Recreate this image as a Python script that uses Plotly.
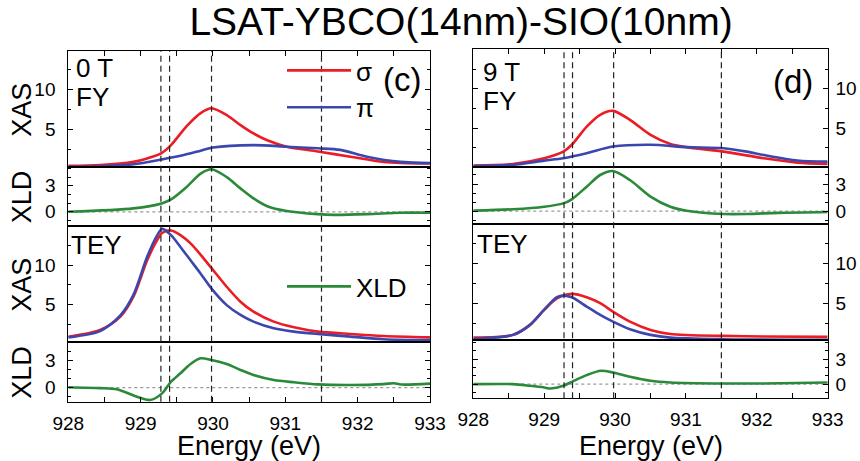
import plotly.graph_objects as go

# ---------------- data ----------------
# Left column: 0 T
fy0_sigma_E = [928, 928.44, 928.9, 929.09, 929.29, 929.42, 929.64, 929.83, 929.98, 930.19, 930.38, 930.56, 930.75, 931.02, 931.45, 931.9, 932.36, 933]
fy0_sigma = [0.4, 0.5, 0.9, 1.33, 2.0, 3.0, 5.4, 7.0, 7.6, 6.75, 5.5, 4.46, 3.6, 2.8, 2.2, 1.55, 0.9, 0.7]
fy0_pi_E = [928, 928.44, 928.9, 929.29, 929.55, 929.83, 930.0, 930.56, 931.02, 931.45, 931.76, 932.13, 932.59, 933]
fy0_pi = [0.3, 0.35, 0.6, 1.2, 1.66, 2.3, 2.7, 3.0, 2.8, 2.6, 2.4, 1.55, 0.9, 0.75]
fy0_xld_E = [928, 928.9, 929.29, 929.42, 929.64, 929.83, 929.98, 930.19, 930.38, 930.56, 930.75, 931.02, 931.45, 931.67, 932.13, 932.59, 933]
fy0_xld = [0.0, 0.4, 0.97, 1.43, 2.9, 4.4, 4.9, 4.0, 2.7, 1.55, 0.65, 0.1, -0.27, -0.35, -0.27, -0.1, -0.1]

tey0_E = [928, 928.44, 928.72, 928.9, 929.09, 929.23, 929.3, 929.42, 929.55, 929.69, 929.83, 929.98, 930.19, 930.38, 930.56, 930.84, 931.12, 931.45, 931.9, 932.36, 933]
tey0_sigma = [0.89, 1.74, 3.43, 5.97, 10.6, 13.2, 14.1, 14.4, 13.8, 12.75, 11.3, 9.6, 7.24, 5.34, 4.07, 2.8, 2.08, 1.53, 1.23, 0.98, 0.8]
tey0_pi = [0.8, 1.6, 3.6, 6.2, 11.05, 13.8, 14.6, 13.8, 12.3, 10.6, 8.9, 7.0, 4.9, 3.65, 2.8, 1.96, 1.53, 1.23, 0.9, 0.56, 0.45]
tey0_xld_E = [928, 928.44, 928.67, 928.95, 929.13, 929.3, 929.42, 929.55, 929.69, 929.83, 929.98, 930.19, 930.38, 930.56, 930.84, 931.12, 931.45, 931.9, 932.36, 932.5, 932.6, 933]
tey0_xld = [0.05, -0.05, -0.18, -1.0, -1.37, -0.6, 0.67, 1.6, 2.63, 3.26, 3.07, 2.63, 1.97, 1.41, 0.85, 0.6, 0.37, 0.3, 0.4, 0.5, 0.35, 0.45]

# Right column: 9 T
fy9_sigma_E = [928, 928.56, 929, 929.27, 929.39, 929.6, 929.79, 929.97, 930.21, 930.5, 930.78, 931.01, 931.53, 932.1, 932.57, 933]
fy9_sigma = [0.26, 0.47, 1.19, 2.03, 2.9, 5.2, 6.7, 7.2, 6.06, 4.16, 3.0, 2.6, 2.03, 1.19, 0.64, 0.47]
fy9_pi_E = [928, 928.56, 929, 929.27, 929.6, 929.97, 930.5, 931.01, 931.53, 931.86, 932.1, 932.57, 933]
fy9_pi = [0.2, 0.35, 0.89, 1.2, 1.83, 2.67, 2.9, 2.6, 2.46, 2.03, 1.6, 0.9, 0.76]
fy9_xld_E = [928, 928.56, 929, 929.27, 929.39, 929.6, 929.79, 929.97, 930.21, 930.5, 930.78, 931.01, 931.53, 931.86, 932.3, 933]
fy9_xld = [0.04, 0.2, 0.48, 0.85, 1.3, 2.7, 4.0, 4.44, 3.44, 1.6, 0.48, 0.04, -0.33, -0.33, -0.2, -0.1]

tey9_sigma_E = [928, 928.56, 928.8, 929, 929.18, 929.39, 929.6, 929.79, 929.97, 930.21, 930.5, 930.78, 931.53, 932.1, 933]
tey9_sigma = [0.7, 1.04, 2.29, 4.16, 5.6, 6.16, 5.75, 5.0, 3.95, 2.7, 1.66, 1.16, 0.91, 0.83, 0.79]
tey9_pi_E = [928, 928.56, 928.8, 929, 929.18, 929.27, 929.39, 929.6, 929.79, 929.97, 930.21, 930.5, 930.78, 931.53, 933]
tey9_pi = [0.54, 1.04, 2.29, 4.2, 5.75, 5.95, 5.75, 4.58, 3.54, 2.7, 1.75, 1.04, 0.7, 0.5, 0.41]
tey9_xld_E = [928, 928.56, 928.8, 929, 929.09, 929.27, 929.39, 929.6, 929.8, 929.97, 930.21, 930.5, 930.78, 931.53, 932.1, 933]
tey9_xld = [0.0, 0.0, -0.2, -0.4, -0.52, -0.2, 0.28, 1.08, 1.6, 1.4, 0.88, 0.4, 0.2, 0.08, 0.08, 0.2]

marker_energies = [929.28, 929.4, 929.98, 931.5]
x_ticks = [928, 929, 930, 931, 932, 933]
x_title = "Energy (eV)"
row_titles = ["XAS", "XLD", "XAS", "XLD"]

# ---------------- styling ----------------
RED = "#EC1C24"
BLUE = "#3B47AE"
GREEN = "#2B8A3A"
FONT = "Liberation Sans, Arial, sans-serif"
W, H = 860, 461

def py(px):
    return 1 - px / H

col_x = [[68.3 / W, 430 / W], [473.3 / W, 827.7 / W]]
col_rows = [[50.7, 166.7, 225.7, 341.7, 401.7], [49.3, 166.7, 224, 340, 398.3]]
y_ranges = [
    [[0.3, 14.8], [-1.6, 5.2], [0.25, 15.0], [-1.55, 5.1]],
    [[0.12, 15.0], [-1.44, 4.92], [0.4, 14.9], [-1.7, 5.3]],
]

fig = go.Figure()

def ax(r, c):
    return r * 2 + c + 1

def add(r, c, x, y, color, name=None, legend=None):
    k = ax(r, c)
    fig.add_trace(go.Scatter(
        x=x, y=y, mode="lines", line=dict(color=color, width=2.6, shape="spline", smoothing=0.8),
        xaxis="x" if k == 1 else f"x{k}", yaxis="y" if k == 1 else f"y{k}",
        name=name or "", showlegend=name is not None, legend=legend or "legend",
        hoverinfo="skip"))

# left column
add(0, 0, fy0_sigma_E, fy0_sigma, RED, "σ", "legend")
add(0, 0, fy0_pi_E, fy0_pi, BLUE, "π", "legend")
add(1, 0, fy0_xld_E, fy0_xld, GREEN)
add(2, 0, tey0_E, tey0_sigma, RED)
add(2, 0, tey0_E, tey0_pi, BLUE)
add(3, 0, tey0_xld_E, tey0_xld, GREEN, "XLD", "legend2")
# right column
add(0, 1, fy9_sigma_E, fy9_sigma, RED)
add(0, 1, fy9_pi_E, fy9_pi, BLUE)
add(1, 1, fy9_xld_E, fy9_xld, GREEN)
add(2, 1, tey9_sigma_E, tey9_sigma, RED)
add(2, 1, tey9_pi_E, tey9_pi, BLUE)
add(3, 1, tey9_xld_E, tey9_xld, GREEN)

layout = dict(
    template="none",
    width=W, height=H, margin=dict(l=0, r=0, t=0, b=0, autoexpand=False),
    paper_bgcolor="white", plot_bgcolor="white",
    font=dict(family=FONT, color="black", size=19),
    title=dict(text="LSAT-YBCO(14nm)-SIO(10nm)", x=461 / W, y=py(21), xanchor="center", yanchor="middle",
               font=dict(size=39, family=FONT, color="black")),
    legend=dict(x=282 / W, y=py(47), xanchor="left", yanchor="top", bgcolor="rgba(0,0,0,0)",
                font=dict(size=26, family=FONT), itemwidth=64, tracegroupgap=0),
    legend2=dict(x=282 / W, y=py(263), xanchor="left", yanchor="top", bgcolor="rgba(0,0,0,0)",
                 font=dict(size=26, family=FONT), itemwidth=64),
    showlegend=True,
)

for c in range(2):
    rows = col_rows[c]
    for r in range(4):
        k = ax(r, c)
        xname = "xaxis" if k == 1 else f"xaxis{k}"
        yname = "yaxis" if k == 1 else f"yaxis{k}"
        yref = "y" if k == 1 else f"y{k}"
        xa = dict(domain=col_x[c], anchor=yref, range=[928, 933], showgrid=False, zeroline=False,
                  showline=True, linecolor="black", linewidth=1, mirror=True, automargin=False,
                  tickvals=x_ticks, ticktext=[str(v) for v in x_ticks], fixedrange=True)
        if r == 0:
            xa.update(side="top", ticks="inside", ticklen=5, tickcolor="black", showticklabels=False,
                      minor=dict(dtick=0.5, tick0=928, ticks="inside", ticklen=5, tickcolor="black"))
        elif r == 3:
            xa.update(side="bottom", ticks="inside", ticklen=5, tickcolor="black", showticklabels=True,
                      tickfont=dict(size=19), ticklabelstandoff=4,
                      minor=dict(dtick=0.5, tick0=928, ticks="inside", ticklen=5, tickcolor="black"))
        else:
            xa.update(ticks="", showticklabels=False)
        is_xas = r in (0, 2)
        ya = dict(domain=[py(rows[r + 1]), py(rows[r])], anchor="x" if k == 1 else f"x{k}",
                  range=y_ranges[c][r], showgrid=False, zeroline=False, automargin=False,
                  showline=True, linecolor="black", linewidth=1, mirror="ticks",
                  ticks="inside", ticklen=5, tickcolor="black",
                  tickvals=[5, 10] if is_xas else [0, 3],
                  minor=dict(tickvals=[2.5, 7.5, 12.5] if is_xas else [-1, 1, 2, 4, 5],
                             ticks="inside", ticklen=3, tickcolor="black"),
                  tickfont=dict(size=19), fixedrange=True)
        if c == 0:
            ya.update(side="left", ticklabelstandoff=8)
        else:
            ya.update(side="right", ticklabelstandoff=3)
        layout[xname] = xa
        layout[yname] = ya

fig.update_layout(**layout)

shapes = []
for c in range(2):
    rows = col_rows[c]
    xr = "x" if c == 0 else "x2"
    for e in marker_energies:
        shapes.append(dict(type="line", xref=xr, yref="paper", x0=e, x1=e, y0=py(rows[4]), y1=py(rows[0]),
                           line=dict(color="#222222", width=1.2, dash="6px,4px"), layer="above"))
    for r in (1, 3):
        k = ax(r, c)
        shapes.append(dict(type="line", xref=f"x{k} domain", yref=f"y{k}", x0=0, x1=1, y0=0, y1=0,
                           line=dict(color="#9a9a9a", width=1.3, dash="dot"), layer="below"))
fig.update_layout(shapes=shapes)

ann = []
def text(t, x, y, size=26, xanchor="left", angle=0):
    ann.append(dict(text=t, xref="paper", yref="paper", x=x / W, y=py(y), xanchor=xanchor, yanchor="middle",
                    textangle=angle, showarrow=False, font=dict(size=size, family=FONT, color="black")))

# axis titles
rows0 = col_rows[0]
for r in range(4):
    text(row_titles[r], 22, (rows0[r] + rows0[r + 1]) / 2 + 1, size=27, xanchor="center", angle=-90)
text(x_title, (68.3 + 430) / 2, 446, size=27, xanchor="center")
text(x_title, (473.3 + 827.7) / 2, 446, size=27, xanchor="center")

# panel labels
text("0 T", 74, 68)
text("FY", 74, 97)
text("9 T", 481, 72)
text("FY", 481, 101)
text("TEY", 69, 245)
text("TEY", 475, 244)
text("(c)", 381, 79, size=33)
text("(d)", 771, 81, size=33)
fig.update_layout(annotations=ann)

fig.write_html("out.html", config={"displayModeBar": False},
               post_script="document.body.style.margin='0';document.body.style.padding='0';document.body.style.overflow='hidden';")
